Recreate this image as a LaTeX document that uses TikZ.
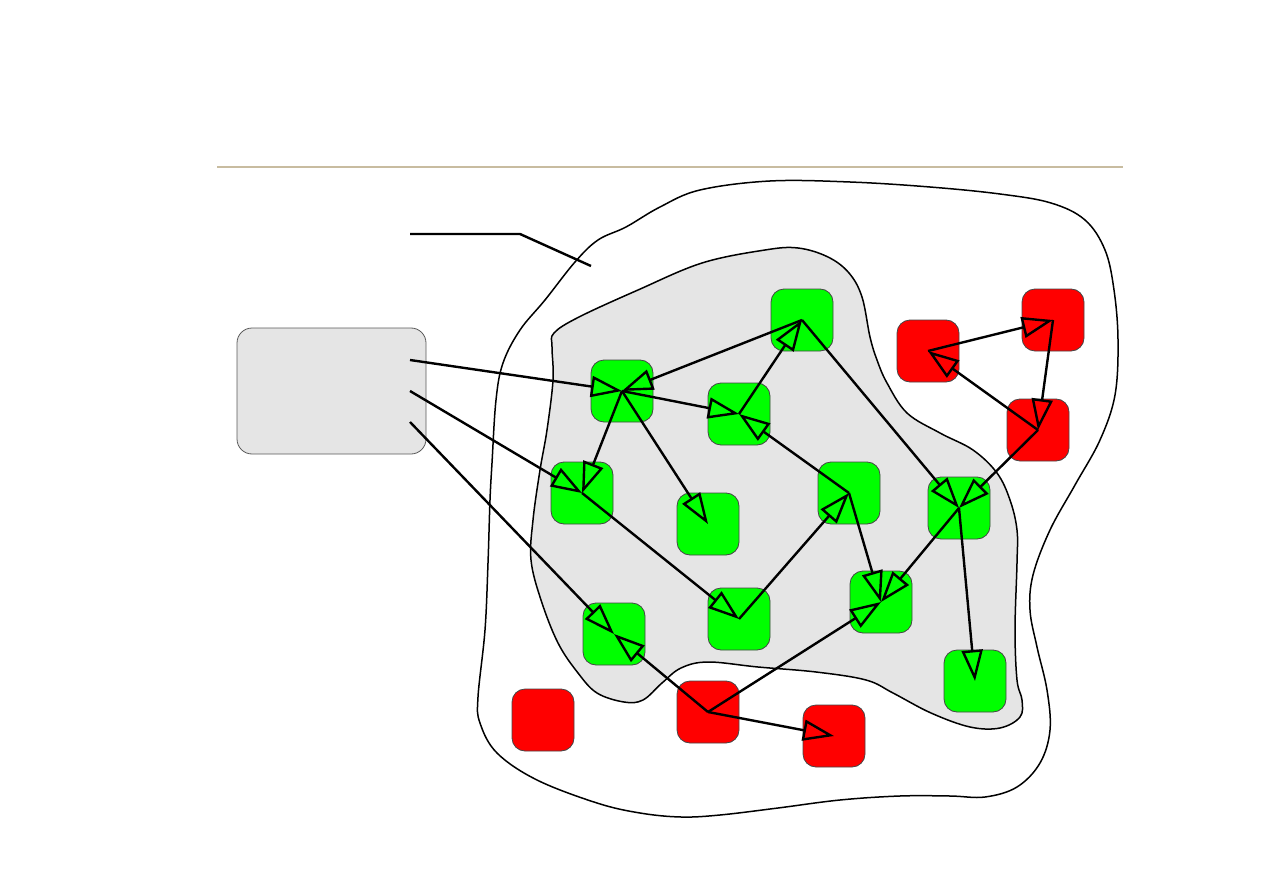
\documentclass[tikz,border=0pt]{standalone}
\usetikzlibrary{arrows.meta}
\definecolor{tanline}{RGB}{200,188,160}
\definecolor{blobgray}{RGB}{229,229,229}
\definecolor{nodegreen}{RGB}{0,255,0}
\definecolor{nodered}{RGB}{255,0,0}
\tikzset{
  sq/.style={draw={rgb,255:red,70;green,70;blue,70}, line width=0.8pt, rounded corners=13pt, minimum width=62pt, minimum height=62pt, inner sep=0pt},
  gsq/.style={sq, fill=nodegreen},
  rsq/.style={sq, fill=nodered},
  conn/.style={line width=2.4pt, line join=miter, -{Triangle[open, length=31pt, width=21pt, line width=2.4pt]}},
  plain/.style={line width=2.4pt},
  blobline/.style={line width=1.5pt}
}
\begin{document}
\begin{tikzpicture}[x=1pt,y=-1pt]
\useasboundingbox (0,0) rectangle (1263,893);
% top rule
\draw[tanline, line width=1.2pt] (217,167) -- (1123,167);
% outer blob
\draw[blobline, fill=white] plot[smooth cycle, tension=0.6] coordinates {
(626,227) (660,207) (700,190) (770,181) (850,182) (930,187) (1000,194) (1051,203)
(1085,220) (1105,250) (1114,290) (1118,340) (1115,395) (1100,440) (1075,485)
(1050,530) (1033,575) (1030,610) (1037,647) (1047,690) (1050,730) (1040,763)
(1017,787) (985,797) (950,796) (900,796) (840,800) (778,808) (720,815) (681,817)
(640,813) (597,803) (537,780) (497,753) (480,723) (478,697) (485,630) (488,563)
(490,500) (492,463) (496,400) (503,363) (520,330) (545,300) (575,262) (598,240)};
% inner gray blob
\draw[blobline, fill=blobgray] plot[smooth cycle, tension=0.6] coordinates {
(554,333) (579,317) (638,290) (702,263) (765,250) (798,248) (828,257) (849,273)
(862,297) (870,337) (877,360) (887,383) (907,413) (940,433) (973,450) (997,473)
(1010,500) (1017,530) (1017,563) (1015,630) (1017,680) (1022,700) (1020,717)
(1000,728) (970,727) (931,713) (893,693) (866,680) (816,672) (758,667) (708,662)
(681,668) (662,683) (643,700) (624,702) (597,693) (578,673) (558,643) (541,600)
(531,560) (533,520) (540,470) (547,430) (553,380) (552,347)};
% left box
\node[draw={rgb,255:red,90;green,90;blue,90}, line width=0.8pt, fill=blobgray, rounded corners=15pt, minimum width=189pt, minimum height=126pt, inner sep=0pt] (box) at (331.5,391) {};
% callout line
\coordinate (c1) at (410,234);
\coordinate (c2) at (520,234);
\coordinate (c3) at (591,266);
\draw[plain] (c1) -- (c2) -- (c3);
% green nodes
\node[gsq] (g1) at (802,320) {};
\node[gsq] (g2) at (622,391) {};
\node[gsq] (g3) at (739,414) {};
\node[gsq] (g4) at (582,493) {};
\node[gsq] (g5) at (708,524) {};
\node[gsq] (g6) at (849,493) {};
\node[gsq] (g7) at (959,508) {};
\node[gsq] (g8) at (739,619) {};
\node[gsq] (g9) at (881,602) {};
\node[gsq] (g10) at (614,634) {};
\node[gsq] (g11) at (975,681) {};
% red nodes
\node[rsq] (r1) at (928,351) {};
\node[rsq] (r2) at (1053,320) {};
\node[rsq] (r3) at (1038,430) {};
\node[rsq] (r4) at (543,720) {};
\node[rsq] (r5) at (708,712) {};
\node[rsq] (r6) at (834,736) {};
% left box line starts
\coordinate (l1) at (410,360);
\coordinate (l2) at (410,391);
\coordinate (l3) at (410,422);
% connectors
\draw[conn] (l1) -- (g2.center);
\draw[conn] (l2) -- (g4.center);
\draw[conn] (l3) -- (g10.center);
\draw[conn] (g1.center) -- (g2.center);
\draw[conn] (g3.center) -- (g1.center);
\draw[conn] (g2.center) -- (g3.center);
\draw[conn] (g2.center) -- (g4.center);
\draw[conn] (g2.center) -- (g5.center);
\draw[conn] (g6.center) -- (g3.center);
\draw[conn] (g1.center) -- (g7.center);
\draw[conn] (r3.center) -- (g7.center);
\draw[conn] (g7.center) -- (g9.center);
\draw[conn] (g7.center) -- (g11.center);
\draw[conn] (g6.center) -- (g9.center);
\draw[conn] (r5.center) -- (g9.center);
\draw[conn] (g4.center) -- (g8.center);
\draw[conn] (g8.center) -- (g6.center);
\draw[conn] (r5.center) -- (r6.center);
\draw[conn] (r3.center) -- (r1.center);
\draw[conn] (r1.center) -- (r2.center);
\draw[conn] (r2.center) -- (r3.center);
\draw[conn] (r5.center) -- (g10.center);
\end{tikzpicture}
\end{document}
